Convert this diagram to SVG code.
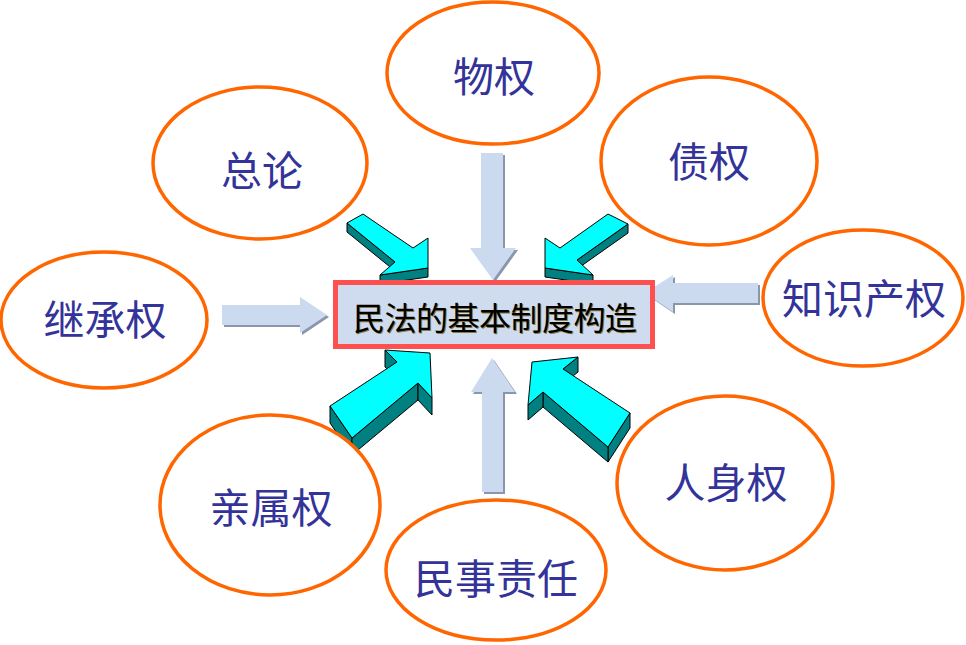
<svg xmlns="http://www.w3.org/2000/svg" width="966" height="645" viewBox="0 0 966 645">
<style>
.ell{fill:#FFFFFF;stroke:#FF6600;stroke-width:3.5}
.lbl{font-family:"Noto Sans CJK SC","Noto Sans CJK TC",sans-serif;font-size:41px;fill:#333399;text-anchor:middle}
.top{fill:#00FFFF;stroke:#000000;stroke-width:1;stroke-linejoin:round}
.side{fill:#008080;stroke:#000000;stroke-width:1;stroke-linejoin:round}
.la{fill:#CCDAF0}
.ls{fill:#8A96AA}
.ctext{font-family:"Noto Sans CJK SC",sans-serif;font-size:32px;text-anchor:middle}
</style>
<rect width="966" height="645" fill="#FFFFFF"/>

<g id="connectors">
  <g id="arrow-down">
    <polygon class="ls" points="483,155 505,155 505,250 518,250 495,282 472,250 483,250"/>
    <polygon class="la" points="481,153 503,153 503,248 516,248 493,280 470,248 481,248"/>
  </g>
  <g id="arrow-up">
    <polygon class="ls" points="484,494 505,494 505,394 517,394 494,360 473,394 484,394"/>
    <polygon class="la" points="482,492 503,492 503,392 515,392 492,358 471,392 482,392"/>
  </g>
  <g id="arrow-left">
    <polygon class="ls" points="760,285 760,305 675,305 675,314 647,295 675,277 675,285"/>
    <polygon class="la" points="758,283 758,303 673,303 673,312 645,293 673,275 673,283"/>
  </g>
  <g id="arrow-right">
    <polygon class="ls" points="224,307 302,307 302,299 329,317 302,335 302,327 224,327"/>
    <polygon class="la" points="222,305 300,305 300,297 327,315 300,333 300,325 222,325"/>
  </g>

  <g id="arrow-3d-ul">
    <polygon class="side" points="428,268 380,275 380,284 428,277"/>
    <polygon class="side" points="395,262 347,223 347,232 395,271"/>
    <polygon class="top" points="347,223 363,214 413,248 428,238 428,268 380,275 395,262"/>
  </g>
  <g id="arrow-3d-ur">
    <polygon class="side" points="628,224 577,260 577,269 628,233"/>
    <polygon class="side" points="593,275 545,268 545,277 593,284"/>
    <polygon class="top" points="608,214 628,224 577,260 593,275 545,268 545,238 560,248"/>
  </g>
  <g id="arrow-3d-ll">
    <polygon class="side" points="330,406 352,438 352,455 330,423"/>
    <polygon class="side" points="352,438 418,383 418,400 352,455"/>
    <polygon class="side" points="418,383 432,398 432,415 418,400"/>
    <polygon class="side" points="385,350 397,362 397,379 385,367"/>
    <polygon class="top" points="330,406 352,438 418,383 432,398 430,353 385,350 397,362"/>
  </g>
  <g id="arrow-3d-lr">
    <polygon class="side" points="578,357 563,369 563,384 578,372"/>
    <polygon class="side" points="630,413 608,447 608,462 630,428"/>
    <polygon class="side" points="608,447 543,392 543,407 608,462"/>
    <polygon class="side" points="543,392 528,405 528,420 543,407"/>
    <polygon class="top" points="532,362 578,357 563,369 630,413 608,447 543,392 528,405"/>
  </g>
</g>

<g id="center">
  <rect x="335.5" y="282.5" width="317" height="64" fill="#CFDCF0" stroke="#FF5050" stroke-width="5"/>
  <text class="ctext" x="496" y="330.5" fill="#8A7A40" textLength="284">民法的基本制度构造</text>
  <text class="ctext" x="495" y="329.5" fill="#000000" textLength="284">民法的基本制度构造</text>
</g>

<g id="node-wuquan">
  <ellipse class="ell" cx="493" cy="73" rx="106" ry="71"/>
  <text class="lbl" x="494" y="92">物权</text>
</g>
<g id="node-zonglun">
  <ellipse class="ell" cx="260" cy="163" rx="107" ry="76"/>
  <text class="lbl" x="262" y="186">总论</text>
</g>
<g id="node-zhaiquan">
  <ellipse class="ell" cx="709" cy="161" rx="108" ry="84"/>
  <text class="lbl" x="709" y="177">债权</text>
</g>
<g id="node-jicheng">
  <ellipse class="ell" cx="104" cy="320" rx="103" ry="68"/>
  <text class="lbl" x="105" y="335">继承权</text>
</g>
<g id="node-zhishi">
  <ellipse class="ell" cx="863" cy="298" rx="100" ry="68"/>
  <text class="lbl" x="864" y="314">知识产权</text>
</g>
<g id="node-qinshu">
  <ellipse class="ell" cx="270" cy="505" rx="110" ry="90"/>
  <text class="lbl" x="271" y="523">亲属权</text>
</g>
<g id="node-minshi">
  <ellipse class="ell" cx="496" cy="570" rx="110" ry="70"/>
  <text class="lbl" x="496" y="594">民事责任</text>
</g>
<g id="node-renshen">
  <ellipse class="ell" cx="725" cy="483" rx="108" ry="87"/>
  <text class="lbl" x="726" y="498">人身权</text>
</g>
</svg>
